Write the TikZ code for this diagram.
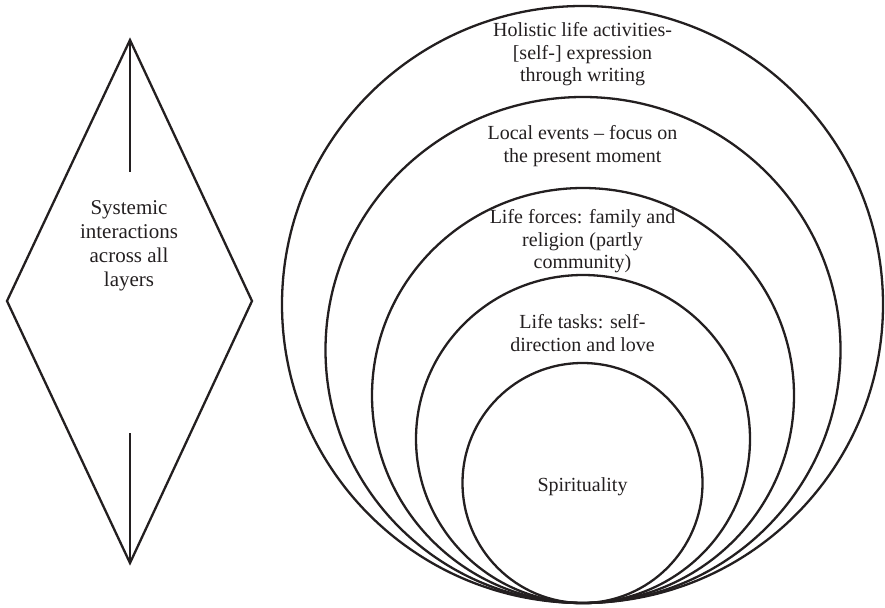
\documentclass[tikz,border=0pt]{standalone}
\usepackage{fontspec}
\setmainfont{Liberation Serif}
\definecolor{ink}{HTML}{231F20}
\begin{document}
\begin{tikzpicture}[x=1pt,y=-1pt,
  ring/.style={draw=ink,line width=2.3pt},
  edge/.style={draw=ink,line width=2.3pt,line join=miter},
  stem/.style={draw=ink,line width=2.8pt},
  lbl/.style={text=ink,align=center,inner sep=0pt,font=\fontsize{20}{22.6}\selectfont}]
\useasboundingbox (0,0) rectangle (885,607);
% diamond
\coordinate (dt) at (130,40);
\coordinate (dr) at (252,301);
\coordinate (db) at (130,563);
\coordinate (dl) at (7,301);
\coordinate (st) at (130,172);
\coordinate (sb) at (130,433);
\draw[edge] (dt) -- (dr) -- (db) -- (dl) -- cycle;
\draw[stem] (dt) -- (st);
\draw[stem] (sb) -- (db);
\node[lbl,font=\fontsize{21}{24}\selectfont] (sys) at (129,246) {Systemic\\interactions\\across all\\layers};
% rings
\coordinate (c1) at (582.5,304.5);
\coordinate (c2) at (583,350);
\coordinate (c3) at (583,395.5);
\coordinate (c4) at (583,439);
\coordinate (c5) at (582.5,483);
\draw[ring] (c1) ellipse [x radius=300.5pt, y radius=298.5pt];
\draw[ring] (c2) ellipse [x radius=257.5pt, y radius=253pt];
\draw[ring] (c3) ellipse [x radius=211pt, y radius=207.5pt];
\draw[ring] (c4) ellipse [x radius=167pt, y radius=164pt];
\draw[ring] (c5) ellipse [x radius=120pt, y radius=120pt];
\node[lbl] (hol) at (582.5,54.5) {Holistic life activities-\\{}[self-] expression\\through writing};
\node[lbl] (loc) at (582.5,146) {Local events -- focus on\\the present moment};
\node[lbl] (frc) at (582.5,241.5) {Life forces: family and\\religion (partly\\community)};
\node[lbl] (tsk) at (582.5,333) {Life tasks: self-\\direction and love};
\node[lbl] (spi) at (582.5,487) {Spirituality};
\end{tikzpicture}
\end{document}
